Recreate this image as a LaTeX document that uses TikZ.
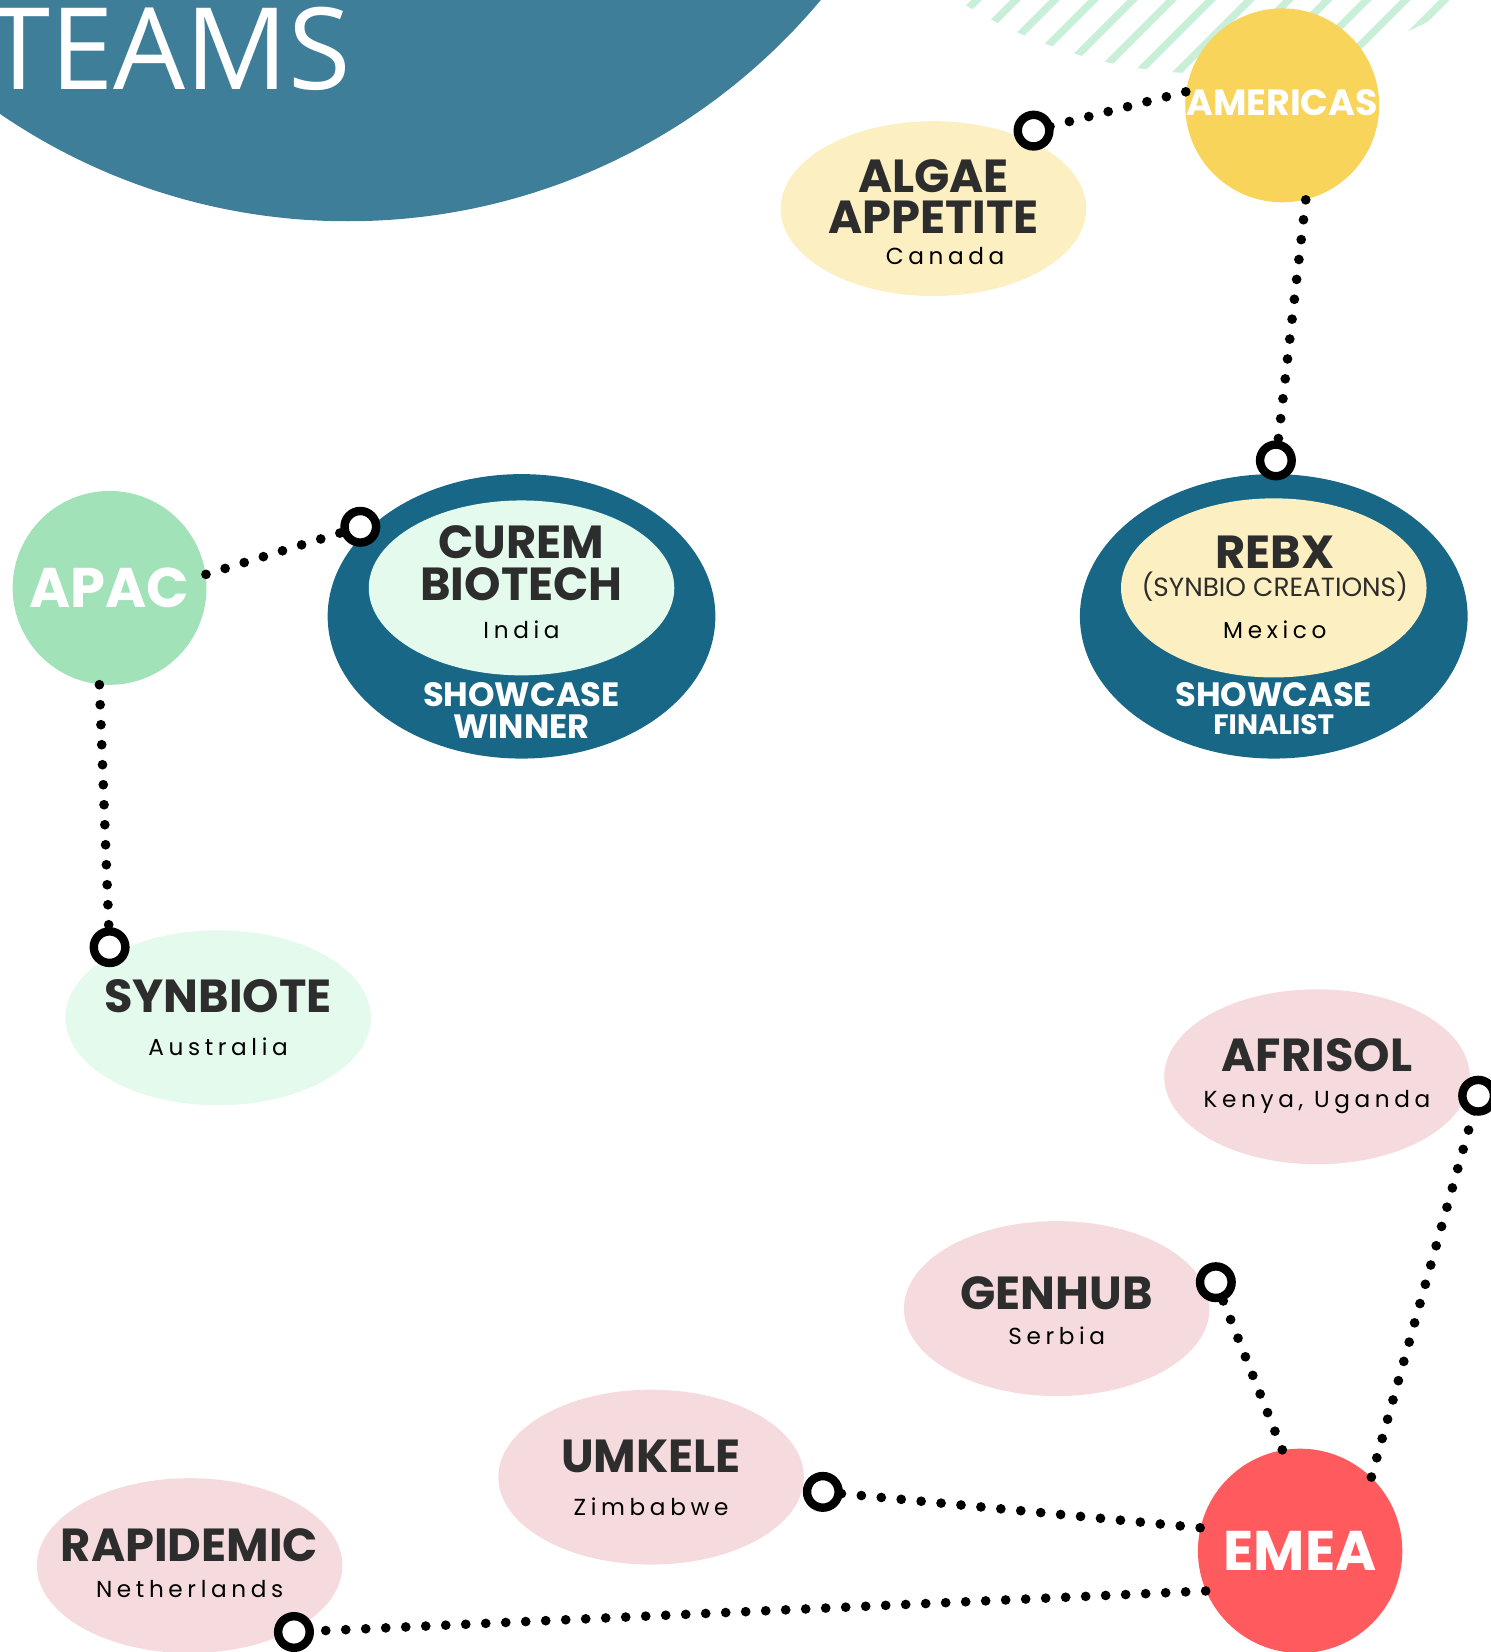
\documentclass[tikz,border=0pt]{standalone}
\usepackage{fontspec}
\setmainfont{Poppins}
\newfontfamily\teamsfont{Open Sans}
\newfontfamily\spacedfont[LetterSpace=20]{Poppins}
\usetikzlibrary{shapes.geometric}
\definecolor{teamblue}{HTML}{3E7E99}
\definecolor{hatchc}{HTML}{C9EFD9}
\definecolor{amerc}{HTML}{F9D45B}
\definecolor{yelc}{HTML}{FCEFC1}
\definecolor{tealc}{HTML}{196786}
\definecolor{mintc}{HTML}{A2E2B8}
\definecolor{mintlt}{HTML}{E3FAEC}
\definecolor{pinkc}{HTML}{F5DBDE}
\definecolor{emeac}{HTML}{FF5B5F}
\definecolor{darkc}{HTML}{2D2D2D}
\tikzset{
  region/.style={circle, inner sep=0pt, text=white, font=\bfseries\fontsize{#1}{#1}\selectfont},
  blob/.style={ellipse, inner sep=0pt, minimum width=145pt, minimum height=83pt},
  outerblob/.style={ellipse, inner sep=0pt, fill=tealc, minimum width=184pt, minimum height=135pt},
  ttl/.style={anchor=base, inner sep=0pt, text=darkc, font=\bfseries\fontsize{22}{22}\selectfont},
  ctry/.style={anchor=base, inner sep=0pt, text=black, font=\spacedfont\fontsize{11}{11}\selectfont},
  award/.style={anchor=base, inner sep=0pt, text=white, font=\bfseries\fontsize{#1}{#1}\selectfont},
  ring/.style={circle, draw=black, fill=white, line width=4pt, minimum size=15pt, inner sep=0pt},
  dotline/.style={line width=4.6pt, line cap=round, dash pattern=on 0pt off 9.5pt},
  hatchline/.style={draw=hatchc, line width=3.5pt}
}
\begin{document}
\begin{tikzpicture}[x=0.5pt,y=-0.5pt]
\useasboundingbox (0,0) rectangle (1415,1568);
\clip (0,0) rectangle (1415,1568);
% big title disc
\fill[teamblue] (330,-375) circle (585);
\node[anchor=base west, inner sep=0pt, text=white, font=\teamsfont\fontsize{54}{54}\selectfont] (teams) at (-12,85) {TEAMS};
% hatching
\begin{scope}
\clip (1150,-380) circle (450);
\foreach \i in {0,...,16} { \draw[hatchline] (790+\i*37,100) -- ++(160,-160); }
\end{scope}
% nodes (shapes)
\node[region=17.3, fill=amerc, minimum size=92pt] (amer) at (1217,100) {\raisebox{3pt}{AMERICAS}};
\node[region=26.5, fill=mintc, minimum size=92pt] (apac) at (104,558) {APAC};
\node[region=26.5, fill=emeac, minimum size=97pt] (emea) at (1234,1472) {EMEA};
\node[blob, fill=yelc] (algae) at (886,198) {};
\node[outerblob] (rebxO) at (1209,585) {};
\node[blob, fill=yelc, minimum height=85pt] (rebxI) at (1209,558) {};
\node[outerblob] (curO) at (495,585) {};
\node[blob, fill=mintlt] (curI) at (495,558) {};
\node[blob, fill=mintlt] (synb) at (207,966) {};
\node[blob, fill=pinkc] (afri) at (1250,1022) {};
\node[blob, fill=pinkc] (genh) at (1003,1242) {};
\node[blob, fill=pinkc] (umke) at (618,1402) {};
\node[blob, fill=pinkc] (rapi) at (180,1486) {};
% texts
\node[ttl] (algae1) at (886,183) {ALGAE};
\node[ttl] (algae2) at (886,222) {APPETITE};
\node[ctry] (algae3) at (897,251) {Canada};
\node[ttl] (rebx1) at (1210,540) {REBX};
\node[anchor=base, inner sep=0pt, text=darkc, font=\fontsize{12.5}{12.5}\selectfont] (rebx2) at (1210,566) {(SYNBIO CREATIONS)};
\node[ctry] (rebx3) at (1210,606) {Mexico};
\node[award=16] (rebx4) at (1209,671) {SHOWCASE};
\node[award=13.3] (rebx5) at (1209,697) {FINALIST};
\node[ttl] (cur1) at (495,530) {CUREM};
\node[ttl] (cur2) at (495,570) {BIOTECH};
\node[ctry] (cur3) at (495,606) {India};
\node[award=16] (cur4) at (495,671) {SHOWCASE};
\node[award=16] (cur5) at (495,701) {WINNER};
\node[ttl] (syn1) at (207,961) {SYNBIOTE};
\node[ctry] (syn2) at (207,1002) {Australia};
\node[ttl] (afr1) at (1250,1017) {AFRISOL};
\node[ctry] (afr2) at (1250,1051) {Kenya, Uganda};
\node[ttl] (gen1) at (1003,1243) {GENHUB};
\node[ctry] (gen2) at (1003,1276) {Serbia};
\node[ttl] (umk1) at (618,1398) {UMKELE};
\node[ctry] (umk2) at (618,1438) {Zimbabwe};
\node[ttl] (rap1) at (180,1482) {RAPIDEMIC};
\node[ctry] (rap2) at (180,1516) {Netherlands};
% rings (positions)
\coordinate (pAlg) at (981,124);
\coordinate (pRebx) at (1211,437);
\coordinate (pCur) at (342,500);
\coordinate (pSyn) at (104,899);
\coordinate (pAfr) at (1403,1040);
\coordinate (pGen) at (1154,1217);
\coordinate (pUmk) at (781,1416);
\coordinate (pRap) at (279,1549);
% connectors
\draw[dotline] (amer.172) -- (pAlg);
\draw[dotline] (amer.284) -- (pRebx);
\draw[dotline] (apac.8) -- (pCur);
\draw[dotline] (apac.264) -- (pSyn);
\draw[dotline] (emea.46) -- (pAfr);
\draw[dotline] (emea.100) -- (pGen);
\draw[dotline] (emea.167) -- (pUmk);
\draw[dotline] (emea.203) -- (pRap);
\node[ring] (ringAlg) at (pAlg) {};
\node[ring] (ringRebx) at (pRebx) {};
\node[ring] (ringCur) at (pCur) {};
\node[ring] (ringSyn) at (pSyn) {};
\node[ring] (ringAfr) at (pAfr) {};
\node[ring] (ringGen) at (pGen) {};
\node[ring] (ringUmk) at (pUmk) {};
\node[ring] (ringRap) at (pRap) {};
\end{tikzpicture}
\end{document}
